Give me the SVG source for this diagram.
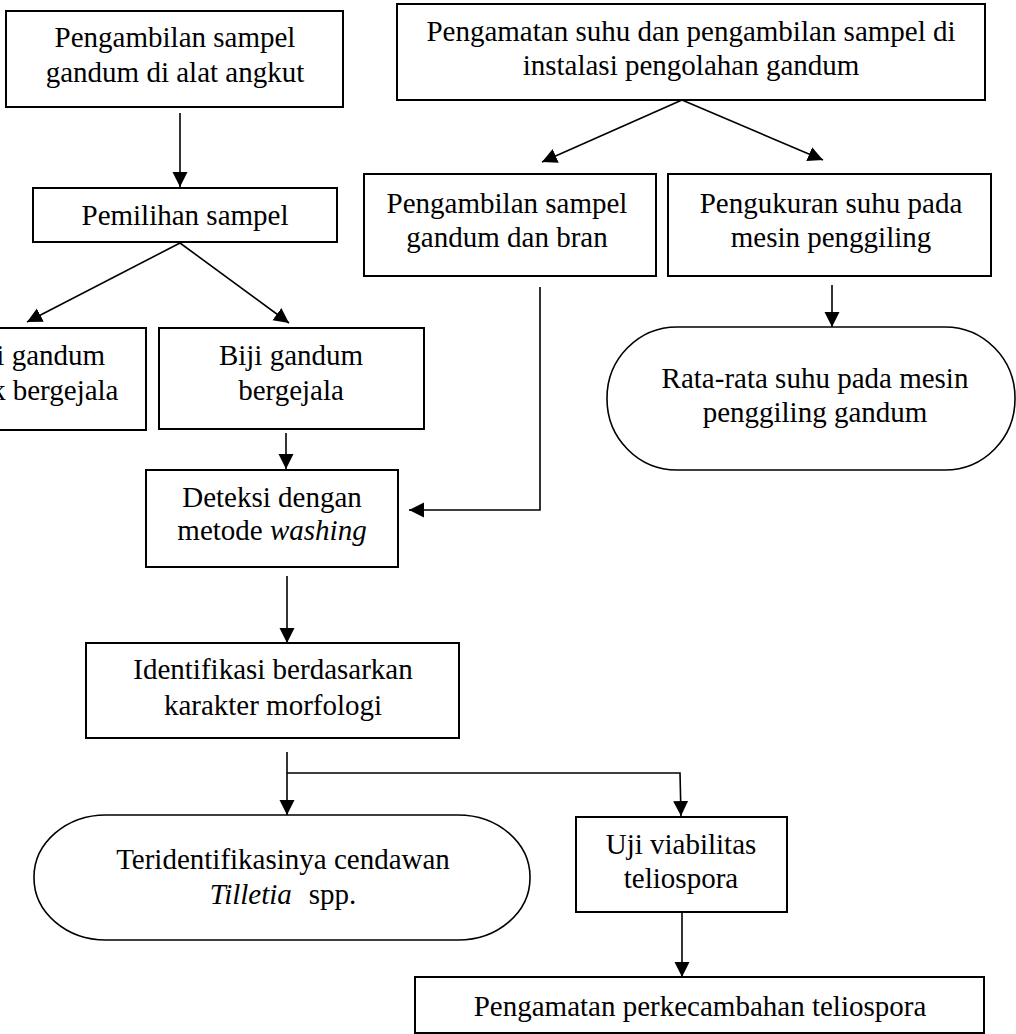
<svg xmlns="http://www.w3.org/2000/svg" width="1016" height="1034" viewBox="0 0 1016 1034">
<defs>
<style>
.box{fill:#fff;stroke:#000;stroke-width:2}
.term{fill:#fff;stroke:#000;stroke-width:1.6}
.t{font-family:"Liberation Serif","Times New Roman",serif;font-size:29px;fill:#000;text-anchor:middle}
.i{font-style:italic}
.c{fill:none;stroke:#000;stroke-width:1.6}
</style>
<marker id="ah" markerUnits="userSpaceOnUse" markerWidth="16" markerHeight="16" refX="15" refY="7.5" orient="auto">
<path d="M0,0 L15,7.5 L0,15 z" fill="#000"/>
</marker>
</defs>
<rect width="1016" height="1034" fill="#fff"/>
<g id="connectors">
<line class="c" x1="180" y1="113" x2="180" y2="187" marker-end="url(#ah)"/>
<line class="c" x1="180" y1="243" x2="27" y2="322" marker-end="url(#ah)"/>
<line class="c" x1="180" y1="243" x2="289" y2="323" marker-end="url(#ah)"/>
<line class="c" x1="682" y1="100" x2="542" y2="162" marker-end="url(#ah)"/>
<line class="c" x1="682" y1="100" x2="823" y2="160" marker-end="url(#ah)"/>
<polyline class="c" points="540,287 540,510 409,510" marker-end="url(#ah)"/>
<line class="c" x1="832" y1="285" x2="832" y2="327" marker-end="url(#ah)"/>
<line class="c" x1="286" y1="433" x2="286" y2="469" marker-end="url(#ah)"/>
<line class="c" x1="287" y1="576" x2="287" y2="643" marker-end="url(#ah)"/>
<line class="c" x1="287" y1="752" x2="287" y2="815" marker-end="url(#ah)"/>
<polyline class="c" points="287,773 680,773 681,816" marker-end="url(#ah)"/>
<line class="c" x1="682" y1="912" x2="682" y2="977" marker-end="url(#ah)"/>
</g>
<g id="n1">
<rect class="box" x="6" y="11" width="337" height="96"/>
<text class="t" x="175" y="47">Pengambilan sampel</text>
<text class="t" x="175" y="82">gandum di alat angkut</text>
</g>
<g id="n2">
<rect class="box" x="33" y="188" width="304" height="54"/>
<text class="t" x="185" y="225">Pemilihan sampel</text>
</g>
<g id="n3">
<rect class="box" x="-81" y="328" width="227" height="102"/>
<text class="t" x="33" y="365">Biji gandum</text>
<text class="t" x="33" y="400">tidak bergejala</text>
</g>
<g id="n4">
<rect class="box" x="159" y="328" width="265" height="101"/>
<text class="t" x="291" y="365">Biji gandum</text>
<text class="t" x="291" y="400">bergejala</text>
</g>
<g id="n5">
<rect class="box" x="397" y="4" width="588" height="96"/>
<text class="t" x="691" y="41">Pengamatan suhu dan pengambilan sampel di</text>
<text class="t" x="691" y="75">instalasi pengolahan gandum</text>
</g>
<g id="n6">
<rect class="box" x="364" y="174" width="292" height="102"/>
<text class="t" x="507" y="213">Pengambilan sampel</text>
<text class="t" x="507" y="247">gandum dan bran</text>
</g>
<g id="n7">
<rect class="box" x="668" y="174" width="323" height="102"/>
<text class="t" x="831" y="213">Pengukuran suhu pada</text>
<text class="t" x="831" y="247">mesin penggiling</text>
</g>
<g id="n8">
<rect class="term" x="607" y="327" width="408" height="143" rx="70" ry="71"/>
<text class="t" x="815" y="388">Rata-rata suhu pada mesin</text>
<text class="t" x="815" y="422">penggiling gandum</text>
</g>
<g id="n9">
<rect class="box" x="146" y="470" width="252" height="97"/>
<text class="t" x="272" y="507">Deteksi dengan</text>
<text class="t" x="272" y="540">metode <tspan class="i">washing</tspan></text>
</g>
<g id="n10">
<rect class="box" x="86" y="643" width="373" height="95"/>
<text class="t" x="273" y="679">Identifikasi berdasarkan</text>
<text class="t" x="273" y="715">karakter morfologi</text>
</g>
<g id="n11">
<rect class="term" x="34" y="815" width="496" height="125" rx="72" ry="62"/>
<text class="t" x="283" y="869">Teridentifikasinya cendawan</text>
<text class="t" x="283" y="904"><tspan class="i">Tilletia</tspan><tspan dx="17">spp.</tspan></text>
</g>
<g id="n12">
<rect class="box" x="576" y="817" width="211" height="95"/>
<text class="t" x="681" y="854">Uji viabilitas</text>
<text class="t" x="681" y="888">teliospora</text>
</g>
<g id="n13">
<rect class="box" x="415" y="977" width="569" height="56"/>
<text class="t" x="700" y="1016">Pengamatan perkecambahan teliospora</text>
</g>
</svg>
